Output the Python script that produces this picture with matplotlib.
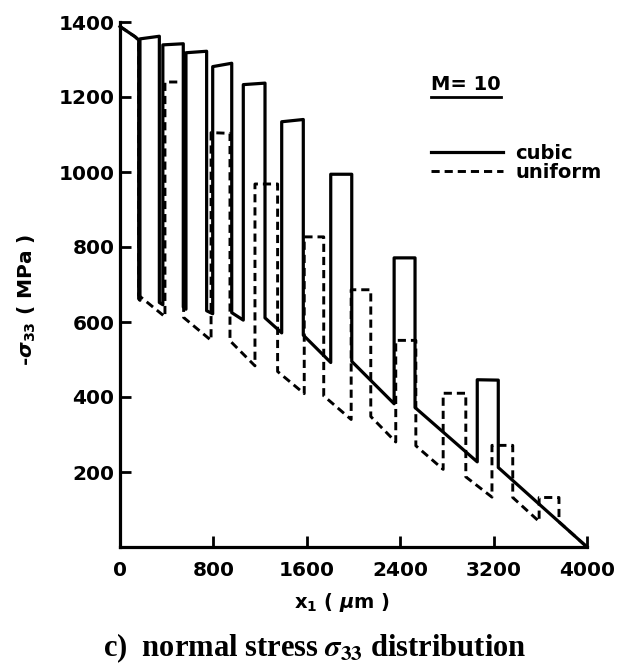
import matplotlib
matplotlib.use("Agg")
import matplotlib.pyplot as plt
from matplotlib.lines import Line2D

# posiciones x1 (um) y -sigma33 (MPa)
cubic_x = [0, 128, 160, 160, 171, 171, 337, 337, 367, 367, 542, 542, 565, 565,
           742, 742, 794, 794, 957, 957, 1056, 1056, 1242, 1242, 1385, 1385,
           1570, 1570, 1805, 1805, 1985, 1985, 2348, 2348, 2527, 2527, 3060,
           3060, 3240, 3240, 4000]
cubic_y = [1388, 1361, 1352, 662, 658, 1355, 1362, 652, 646, 1339, 1342, 640,
           634, 1318, 1322, 630, 622, 1281, 1290, 625, 605, 1233, 1237, 611,
           571, 1134, 1140, 565, 492, 994, 994, 495, 382, 771, 771, 372, 227,
           446, 445, 212, 0]

uniform_x = [0, 128, 160, 160, 385, 385, 545, 545, 780, 780, 942, 942, 1156,
             1156, 1350, 1350, 1578, 1578, 1745, 1745, 1980, 1980, 2148, 2148,
             2362, 2362, 2534, 2534, 2768, 2768, 2962, 2962, 3186, 3186, 3364,
             3364, 3590, 3590, 3760, 3760, 4000]
uniform_y = [1388, 1361, 1352, 671, 614, 1240, 1240, 612, 551, 1105, 1103, 550,
             483, 968, 968, 468, 409, 827, 827, 403, 340, 686, 686, 348, 280,
             551, 551, 270, 207, 410, 410, 187, 133, 271, 271, 132, 68, 132,
             132, 67, 0]

x_ticks = [0, 800, 1600, 2400, 3200, 4000]
y_ticks = [200, 400, 600, 800, 1000, 1200, 1400]

plt.rcParams['font.family'] = ['DejaVu Sans']
plt.rcParams['font.weight'] = 'bold'

W, H = 625, 667
fig = plt.figure(figsize=(W / 100, H / 100), dpi=100)
ax = fig.add_axes([120 / W, 1 - 547 / H, 467 / W, 525 / H])

ax.plot(cubic_x, cubic_y, color='black', lw=2.3, label='cubic', clip_on=False)
ax.plot(uniform_x, uniform_y, color='black', lw=2.1, ls=(0, (2.8, 1.7)),
        label='uniform', clip_on=False)

ax.set_xlim(0, 4000)
ax.set_ylim(0, 1400)
ax.set_xticks(x_ticks)
ax.set_yticks(y_ticks)
for s in ['top', 'right']:
    ax.spines[s].set_visible(False)
for s in ['left', 'bottom']:
    ax.spines[s].set_linewidth(2.3)
ax.tick_params(direction='in', length=8, width=2, labelsize=14.5)
ax.tick_params(axis='x', pad=10)
ax.tick_params(axis='y', pad=4)

leg = ax.legend(loc='upper left', bbox_to_anchor=(0.667, 0.768), frameon=False,
                handlelength=3.7, handletextpad=0.6, labelspacing=0.02,
                fontsize=14, borderpad=0, borderaxespad=0)

# titulo de la leyenda subrayado
t = ax.text(0.667, 0.88, "M= 10", transform=ax.transAxes, fontsize=14,
            va='center', ha='left')
fig.canvas.draw()
bb = t.get_window_extent().transformed(fig.transFigure.inverted())
fig.add_artist(Line2D([bb.x0, bb.x1], [bb.y0 - 0.004, bb.y0 - 0.004],
                      color='black', lw=2, transform=fig.transFigure))

fig.text(342 / W, 1 - 603 / H, r"x$_1$ ( $\mu$m )", fontsize=14,
         ha='center', va='center', math_fontfamily='dejavusans')
fig.text(27 / W, 1 - 300 / H, r"-$\sigma_{33}$ ( MPa )", fontsize=14.5,
         rotation=90, ha='center', va='center', math_fontfamily='dejavusans')
fig.text(315 / W, 1 - 648 / H, r"c)  normal stress $\sigma_{33}$ distribution",
         fontsize=22, family='Liberation Serif', weight='bold',
         ha='center', va='center', math_fontfamily='stix')

fig.savefig('out.png', dpi=100)
